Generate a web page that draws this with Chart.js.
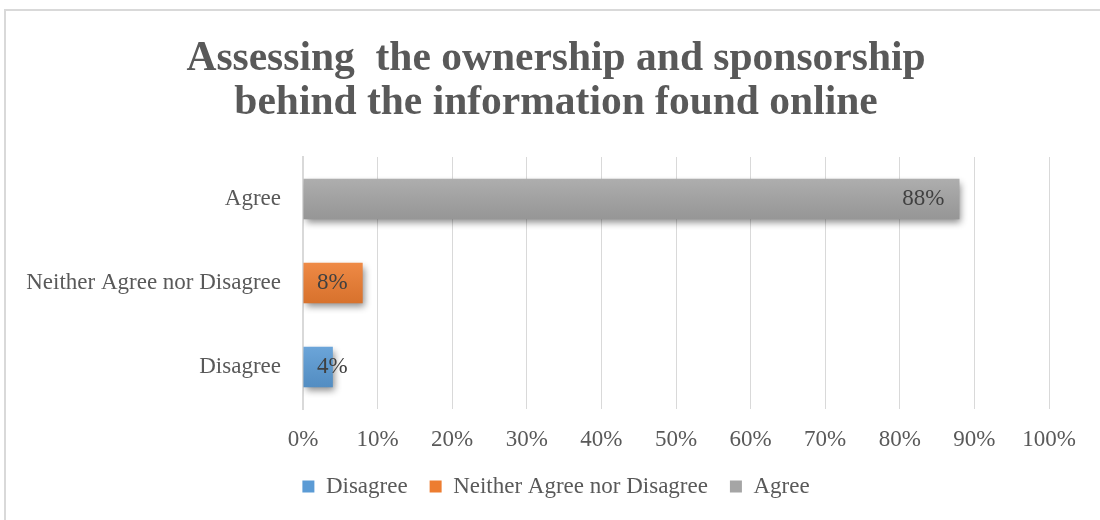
<!DOCTYPE html>
<html>
<head>
<meta charset="utf-8">
<script src="https://cdn.jsdelivr.net/npm/chart.js@4"></script>
<style>
    html, body { margin: 0; padding: 0; background: #ffffff; overflow: hidden; }
    .frame {
        position: absolute; left: 4px; top: 9px; width: 1200px; height: 600px;
        border: 2px solid #d9d9d9;
    }
    .holder { position: absolute; left: 0; top: 0; width: 1100px; height: 520px; }
</style>
</head>
<body>
<div class="frame"></div>
<div class="holder"><canvas id="chart" width="1100" height="520"></canvas></div>
<script>
// Survey answers, bottom to top as they appear in the legend
const responses = ['Disagree', 'Neither Agree nor Disagree', 'Agree'];
const shares = [4, 8, 88];
// Category axis runs top to bottom
const categories = ['Agree', 'Neither Agree nor Disagree', 'Disagree'];
const xTicks = [0, 10, 20, 30, 40, 50, 60, 70, 80, 90, 100];

const barColors = ['#5B9BD5', '#ED7D31', '#A5A5A5'];
const serif = "'Liberation Serif', 'Times New Roman', serif";
const textGray = '#595959';

// one dataset per answer, each holding a value only in its own row
const datasets = responses.map((name, i) => ({
    label: name,
    data: categories.map(c => (c === name ? shares[i] : null)),
    backgroundColor: barColors[i],
    borderWidth: 0,
    barPercentage: 0.485,
    categoryPercentage: 1
}));

// soft drop shadow under the bars
const barShadow = {
    id: 'barShadow',
    beforeDatasetDraw(chart) {
        const ctx = chart.ctx;
        ctx.save();
        ctx.shadowColor = 'rgba(0, 0, 0, 0.45)';
        ctx.shadowBlur = 7;
        ctx.shadowOffsetX = 2;
        ctx.shadowOffsetY = 4;
    },
    afterDatasetDraw(chart) {
        chart.ctx.restore();
    }
};

// light top-to-bottom shading plus the value labels
const barDecor = {
    id: 'barDecor',
    afterDatasetsDraw(chart) {
        const ctx = chart.ctx;
        ctx.save();
        chart.data.datasets.forEach((ds, di) => {
            const meta = chart.getDatasetMeta(di);
            meta.data.forEach((bar, idx) => {
                const v = ds.data[idx];
                if (v === null || v === undefined) return;
                const top = bar.y - bar.height / 2;
                const g = ctx.createLinearGradient(0, top, 0, top + bar.height);
                g.addColorStop(0, 'rgba(255,255,255,0.10)');
                g.addColorStop(1, 'rgba(0,0,0,0.09)');
                ctx.fillStyle = g;
                ctx.fillRect(bar.base, top, bar.x - bar.base, bar.height);

                const label = v + '%';
                ctx.font = '23px ' + serif;
                const w = ctx.measureText(label).width;
                const left = Math.max(bar.x - 15 - w, bar.base + 13.5);
                ctx.fillStyle = '#404040';
                ctx.textAlign = 'left';
                ctx.textBaseline = 'middle';
                ctx.fillText(label, left, bar.y);
            });
        });
        ctx.restore();
    }
};

new Chart(document.getElementById('chart'), {
    type: 'bar',
    data: { labels: categories, datasets: datasets },
    options: {
        indexAxis: 'y',
        responsive: false,
        animation: false,
        layout: { padding: { left: 22, right: 10, top: 0, bottom: 12 } },
        scales: {
            x: {
                stacked: true,
                min: 0,
                max: 100,
                afterBuildTicks: scale => { scale.ticks = xTicks.map(v => ({ value: v })); },
                afterFit: scale => { scale.height = 44; },
                grid: { color: '#d9d9d9', lineWidth: 1, drawTicks: false },
                border: { display: false },
                ticks: {
                    padding: 17,
                    color: textGray,
                    font: { family: serif, size: 23 },
                    callback: v => v + '%'
                }
            },
            y: {
                stacked: true,
                afterFit: scale => { scale.width = 281; },
                grid: { display: false, drawTicks: false },
                border: { display: true, color: '#d9d9d9', width: 2 },
                ticks: {
                    padding: 22,
                    color: textGray,
                    font: { family: serif, size: 23 }
                }
            },
            // empty strip on the right so the plot ends short of the edge
            yRight: {
                type: 'category',
                position: 'right',
                afterFit: scale => { scale.width = 41; },
                grid: { display: false, drawTicks: false },
                border: { display: false },
                ticks: { display: false }
            }
        },
        plugins: {
            title: {
                display: true,
                text: ['Assessing  the ownership and sponsorship', 'behind the information found online'],
                color: textGray,
                font: { family: serif, size: 41.5, weight: 'bold', lineHeight: 44 / 41.5 },
                padding: { top: 37, bottom: 32 }
            },
            legend: {
                position: 'bottom',
                labels: {
                    boxWidth: 12,
                    boxHeight: 12,
                    padding: 22,
                    color: textGray,
                    font: { family: serif, size: 23 }
                }
            },
            tooltip: { enabled: false }
        }
    },
    plugins: [barShadow, barDecor]
});
</script>
</body>
</html>
